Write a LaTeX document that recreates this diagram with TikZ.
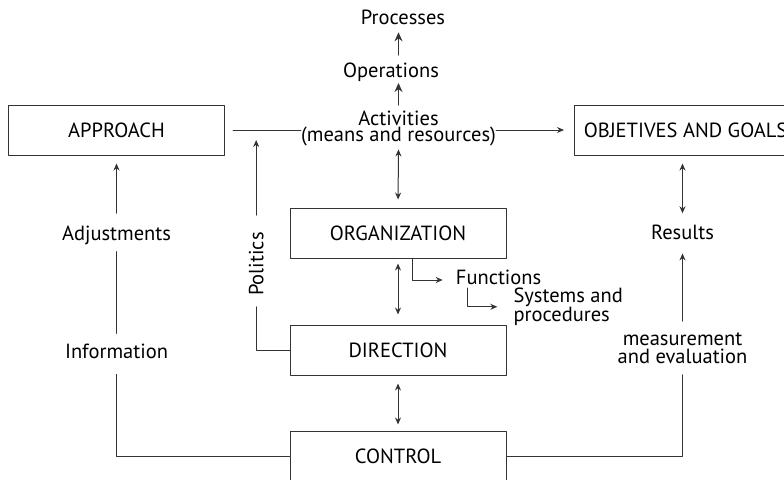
\documentclass[tikz,border=0pt]{standalone}
\usepackage{fontspec}
\setmainfont{PT Sans}
\usetikzlibrary{arrows.meta,positioning}
\tikzset{
  box/.style={draw=black!80, line width=1pt, minimum width=216pt, minimum height=50pt, inner sep=0pt},
  lbl/.style={inner sep=0pt, align=center},
  wire/.style={draw=black!80, line width=1pt},
  bigtip/.style={-{Stealth[length=9pt,width=8pt]}}
}
\begin{document}
\begin{tikzpicture}[x=1pt, y=-1pt, >={Stealth[length=7pt,width=6pt]}, font=\fontsize{20.5}{17.5}\selectfont, line join=round, line cap=round]
  \useasboundingbox (0,0) rectangle (784,479);
  % boxes
  \node[box] (appr) at (116.5,130) {APPROACH};
  \node[box, anchor=west, minimum width=222pt] (goal) at (574,130) {OBJETIVES AND GOALS};
  \node[box] (orga) at (398,233) {ORGANIZATION};
  \node[box] (dire) at (398,350) {DIRECTION};
  \node[box] (ctrl) at (398,456) {CONTROL};
  % labels
  \node[lbl, anchor=base] (proc) at (403,24.3) {Processes};
  \node[lbl, anchor=base] (oper) at (391,77) {Operations};
  \node[lbl, anchor=base, font=\fontsize{20.5}{16.7}\selectfont] (act) at (398.5,141.7) {Activities\\(means and resources)};
  \node[lbl, anchor=base] (adju) at (116.5,240) {Adjustments};
  \node[lbl, anchor=base] (info) at (116.5,358) {Information};
  \node[lbl, rotate=90, anchor=base] (poli) at (263.3,264) {Politics};
  \node[lbl, anchor=base west] (func) at (455.7,284) {Functions};
  \node[lbl, anchor=base west, align=left, font=\fontsize{20.5}{17.4}\selectfont] (syst) at (513.3,321.7) {Systems and\\procedures};
  \node[lbl, anchor=base] (resu) at (682.5,239) {Results};
  \node[lbl, anchor=base, font=\fontsize{20.5}{18.3}\selectfont] (meas) at (682.5,363.3) {measurement\\and evaluation};
  % top chain
  \draw[wire, bigtip, shorten <=7pt, shorten >=8pt] (act.north |- oper.north) -- (act.north |- proc.base);
  \draw[wire, bigtip, shorten <=5pt, shorten >=6pt] (act.north) -- (act.north |- oper.base);
  \draw[wire, shorten <=8pt] (appr.east) -- (appr.east -| act.west);
  \draw[wire, ->, shorten >=10pt] (act.east |- goal.west) -- (goal.west);
  % centre column
  \draw[wire, <->, shorten <=3pt, shorten >=8pt] (act.south) -- (orga.north);
  \draw[wire, <->, shorten <=5pt, shorten >=10pt] (orga.south) -- (dire.north);
  \draw[wire, <->, shorten <=8pt, shorten >=6pt] (dire.south) -- (ctrl.north);
  \draw[wire, ->] ([xshift=14pt]orga.south) |- ([yshift=4pt, xshift=-13pt]func.base west);
  \draw[wire, ->] ([xshift=12pt, yshift=-4pt]func.base west) |- ([yshift=14.9pt, xshift=-16pt]syst.base west);
  % left side
  \draw[wire, ->, shorten <=12pt, shorten >=8pt] (adju.north) -- (appr.south);
  \draw[wire, shorten <=10pt, shorten >=7pt] (info.north) -- (info.north |- adju.south);
  \draw[wire, shorten >=16pt] (ctrl.west) -| (info.south);
  \draw[wire, shorten >=11pt] (dire.west) -| (poli.west);
  \draw[wire, ->, shorten <=17pt, shorten >=10pt] (poli.east) -- (poli.east |- appr.east);
  % right side
  \draw[wire, <->, shorten <=8pt, shorten >=11pt] (resu.north |- goal.south) -- (resu.north);
  \draw[wire, ->, shorten <=11pt, shorten >=14pt] (meas.north) -- (meas.north |- resu.south);
  \draw[wire, shorten >=11pt] (ctrl.east) -| (meas.south);
\end{tikzpicture}
\end{document}
